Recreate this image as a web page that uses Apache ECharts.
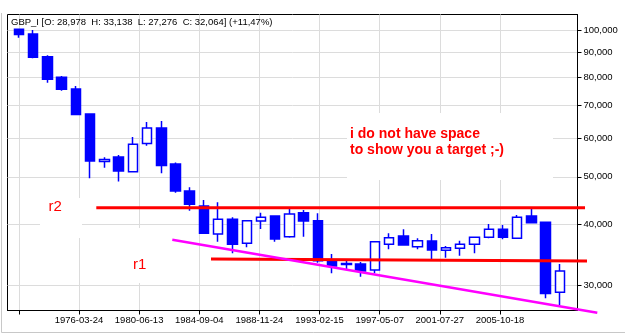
<!DOCTYPE html>
<html><head><meta charset="utf-8">
<script src="https://cdn.jsdelivr.net/npm/echarts@6/dist/echarts.min.js"></script>
<style>html,body{margin:0;padding:0;background:#fff}#c{width:625px;height:334px}</style>
</head><body><div id="c"></div>
<script>
// ---- data ----
const dates = ['1972-01-03','1973-01-02','1974-01-02','1975-01-02','1976-01-02','1977-01-03','1978-01-02','1979-01-02','1980-01-02','1981-01-02',
  '1982-01-04','1983-01-03','1984-01-02','1985-01-02','1986-01-02','1987-01-02','1988-01-04','1989-01-02','1990-01-02','1991-01-02',
  '1992-01-02','1993-01-04','1994-01-03','1995-01-02','1996-01-02','1997-01-02','1998-01-02','1999-01-04','2000-01-03','2001-01-02',
  '2002-01-02','2003-01-02','2004-01-02','2005-01-03','2006-01-02','2007-01-02','2008-01-02','2009-01-02','2010-01-04'];
const openV  = [100330,98130,88160,79980,75680,67260,53740,54900,51220,58510,62950,53110,46750,43560,38160,40900,36520,40580,41550,37680,42200,40630,33640,33040,33120,32200,36350,37800,35940,36920,35330,35670,36350,37570,39020,37390,41550,40330,28978];
const closeV = [97900,87900,79230,75570,67100,53870,54250,51390,58290,62950,52740,46750,43910,38290,40900,36350,40630,41290,37270,41940,40580,33640,32810,33200,32040,36800,37500,36230,36970,35400,35780,36350,37570,39020,37570,41290,40250,28800,32064];
const lowV   = [96430,87500,77970,75080,66990,49640,52190,48900,51080,57900,50830,46380,42600,38250,36800,34840,35840,39070,36800,37500,37680,33330,31700,32300,31190,31700,35500,36200,35500,33910,34120,34440,34840,37390,37220,37350,40150,28170,27276];
const highV  = [100450,100000,88720,80480,76770,67480,54820,55420,60330,64760,65070,53490,47580,44810,44320,41290,40700,42200,41600,43090,42740,42080,34720,33750,33450,36850,38290,39020,37390,38160,36060,36970,37600,40010,39820,41740,43090,40430,33138];
const xTickDates = ['1972-01-03','1976-03-24','1980-06-13','1984-09-04','1988-11-24','1993-02-15','1997-05-07','2001-07-27','2005-10-18'];
const xLabelDates = ['1976-03-24','1980-06-13','1984-09-04','1988-11-24','1993-02-15','1997-05-07','2001-07-27','2005-10-18'];
const yTicks = [30000,40000,50000,60000,70000,80000,90000,100000];
const r2Line = [['1977-06-10',43210],['2011-10-08',43210]];
const r1Line = [['1985-07-01',33910],['2011-11-28',33590]];
const trendLine = [['1982-10-12',37140],['2012-08-18',26310]];
const headerText = 'GBP_I [O: 28,978  H: 33,138  L: 27,276  C: 32,064] (+11,47%)';
const noteLines = ['i do not have space', 'to show you a target ;-)'];
// ---------------------------------------

const FONT = '"Liberation Sans", Arial, sans-serif';
const ts = d => +echarts.number.parseDate(d);
const candleData = dates.map((d, i) => [ts(d), openV[i], closeV[i], lowV[i], highV[i]]);
const fmtDate = v => echarts.time.format(v, '{yyyy}-{MM}-{dd}', false);

const W = 625, H = 334;
const G = {l: 7.5, r: 577.5, t: 14.5, b: 310.5};
const xMin = ts('1971-03-16'), xMax = ts('2011-03-29');
const yMin = 26593, yMax = 107594;

const chart = echarts.init(document.getElementById('c'), null, {renderer: 'canvas'});
chart.setOption({
  animation: false,
  backgroundColor: '#fff',
  grid: {left: G.l, right: W - G.r, top: G.t, bottom: H - G.b, outerBoundsMode: 'none', containLabel: false,
    show: true, borderColor: '#000', borderWidth: 1, backgroundColor: 'transparent'},
  xAxis: {
    type: 'value', min: xMin, max: xMax,
    axisLine: {lineStyle: {color: '#000', width: 1}},
    axisTick: {show: true, length: 4, lineStyle: {color: '#000'}, customValues: xTickDates.map(ts)},
    axisLabel: {customValues: xLabelDates.map(ts), formatter: fmtDate, color: '#000', fontSize: 9.5, fontFamily: FONT, margin: 5, hideOverlap: false},
    splitLine: {show: true, lineStyle: {color: '#dcdcdc', width: 1}}
  },
  yAxis: {
    type: 'log', position: 'right', min: yMin, max: yMax, logBase: 10,
    axisLine: {show: true, lineStyle: {color: '#000', width: 1}},
    axisTick: {show: true, length: 4, lineStyle: {color: '#000'}, customValues: yTicks},
    axisLabel: {customValues: yTicks, color: '#000', fontSize: 9.5, fontFamily: FONT, margin: 6,
      formatter: v => Math.round(v).toLocaleString('en-US')},
    splitLine: {show: true, lineStyle: {color: '#dcdcdc', width: 1}}
  },
  series: [
    {type: 'candlestick', data: candleData, encode: {x: 0, y: [1, 2, 3, 4]}, barWidth: 10,
      itemStyle: {color: '#ffffff', color0: '#0000ff', borderColor: '#0000ff', borderColor0: '#0000ff', borderWidth: 1.5}}
  ]
});

// hand-drawn lines: mapped through the chart's own axes (they run past the plot edge, so drawn unclipped)
const px = line => line.map(p => chart.convertToPixel({xAxisIndex: 0, yAxisIndex: 0}, [ts(p[0]), p[1]]));
chart.setOption({
  graphic: [
    {type: 'polyline', shape: {points: [[1.5, 13], [1.5, 332.5], [625, 332.5]]}, style: {fill: 'none', stroke: '#c8c8c8', lineWidth: 1}, z: 0, silent: true},
    {type: 'rect', shape: {x: 347, y: 113, width: 206, height: 67}, style: {fill: '#fff'}, z: 1, silent: true},
    {type: 'rect', shape: {x: 40, y: 198, width: 42, height: 40}, style: {fill: '#fff'}, z: 1, silent: true},
    {type: 'rect', shape: {x: 120, y: 228, width: 50, height: 55}, style: {fill: '#fff'}, z: 1, silent: true},
    {type: 'polyline', shape: {points: px(r2Line)}, style: {stroke: '#ff0000', lineWidth: 3, fill: 'none'}, z: 20, silent: true},
    {type: 'polyline', shape: {points: px(r1Line)}, style: {stroke: '#ff0000', lineWidth: 3, fill: 'none'}, z: 20, silent: true},
    {type: 'polyline', shape: {points: px(trendLine)}, style: {stroke: '#ff00ff', lineWidth: 2.5, fill: 'none'}, z: 20, silent: true},
    {type: 'text', x: 11, y: 22, style: {text: headerText, font: '9.5px ' + FONT, fill: '#000', verticalAlign: 'middle'}, z: 30},
    {type: 'text', x: 350, y: 134.5, style: {text: noteLines[0], font: 'bold 14px ' + FONT, fill: '#ff0000', verticalAlign: 'middle'}, z: 30},
    {type: 'text', x: 350, y: 150.5, style: {text: noteLines[1], font: 'bold 14px ' + FONT, fill: '#ff0000', verticalAlign: 'middle'}, z: 30},
    {type: 'text', x: 48.5, y: 206.5, style: {text: 'r2', font: '15px ' + FONT, fill: '#ff0000', verticalAlign: 'middle'}, z: 30},
    {type: 'text', x: 133, y: 265, style: {text: 'r1', font: '15px ' + FONT, fill: '#ff0000', verticalAlign: 'middle'}, z: 30}
  ]
});
</script></body></html>
